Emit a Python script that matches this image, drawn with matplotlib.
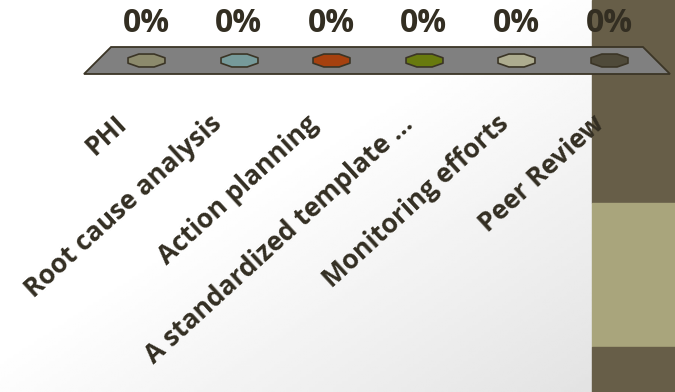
import numpy as np
import matplotlib.pyplot as plt
from matplotlib.path import Path
from matplotlib.patches import Polygon, Rectangle

categories = ['PHI', 'Root cause analysis', 'Action planning',
              'A standardized template ...', 'Monitoring efforts', 'Peer Review']
values = [0, 0, 0, 0, 0, 0]
colors = ['#8c8a6c', '#769a9a', '#a6410f', '#687a0e', '#adac8f', '#4f4a3a']

plt.rcParams['font.family'] = ['Open Sans', 'DejaVu Sans']
txt_color = '#332e22'
edge = '#3b3526'

fig = plt.figure(figsize=(6.75, 3.92), dpi=100)

# slide background: soft grey gradient + band on the right
bg = fig.add_axes([0, 0, 1, 1], zorder=0)
bg.set_xlim(0, 675)
bg.set_ylim(392, 0)
bg.axis('off')
xx, yy = np.meshgrid(np.linspace(0, 1, 200), np.linspace(0, 1, 120))
u = np.clip(((xx + yy) / 2 - 0.45) / 0.55, 0, 1)
bg.imshow(1 - 0.11 * u, cmap='gray', vmin=0, vmax=1,
          extent=(0, 592, 392, 0), aspect='auto')
bg.add_patch(Rectangle((592, 0), 83, 203, color='#675e48'))
bg.add_patch(Rectangle((592, 203), 83, 144, color='#a9a57c'))
bg.add_patch(Rectangle((592, 347), 83, 45, color='#675e48'))

ax = fig.add_axes([0, 0, 1, 1], zorder=1)
ax.patch.set_alpha(0)
ax.axis('off')
ax.set_xlim(-1.577, 5.713)
ax.set_ylim(-332.5, 59.5)

x = np.arange(len(categories))

# floor of the 3d chart
floor = Polygon([(-0.67, -14.5), (-0.378, 12.5), (5.367, 12.5), (5.659, -14.5)],
                closed=True, facecolor='#808080', edgecolor=edge, lw=1.3, zorder=2)
ax.add_patch(floor)

# octagon bars (all zero height)
ang = np.deg2rad(22.5 + 45 * np.arange(8))
verts = np.column_stack([np.cos(ang), 0.35 * np.sin(ang)])
verts = np.vstack([verts, verts[:1]])
octa = Path(verts, closed=True)
for i, v in enumerate(values):
    ax.plot(x[i], v, marker=octa, markersize=26.6, color=colors[i],
            markeredgecolor=edge, markeredgewidth=1.2, ls='none', zorder=3)
    ax.text(x[i], v + 36.5, f'{v:.0f}%', ha='center', va='center',
            fontsize=23, fontweight='bold', color=txt_color, zorder=4)

# category labels (perspective spreads them slightly wider than the bars)
for i, c in enumerate(categories):
    ax.text(-0.194 + 1.0313 * x[i], -66, c, rotation=42.5, rotation_mode='anchor',
            ha='right', va='baseline', fontsize=19, fontweight='bold',
            color=txt_color, zorder=4)

fig.savefig('out.png', dpi=100)
